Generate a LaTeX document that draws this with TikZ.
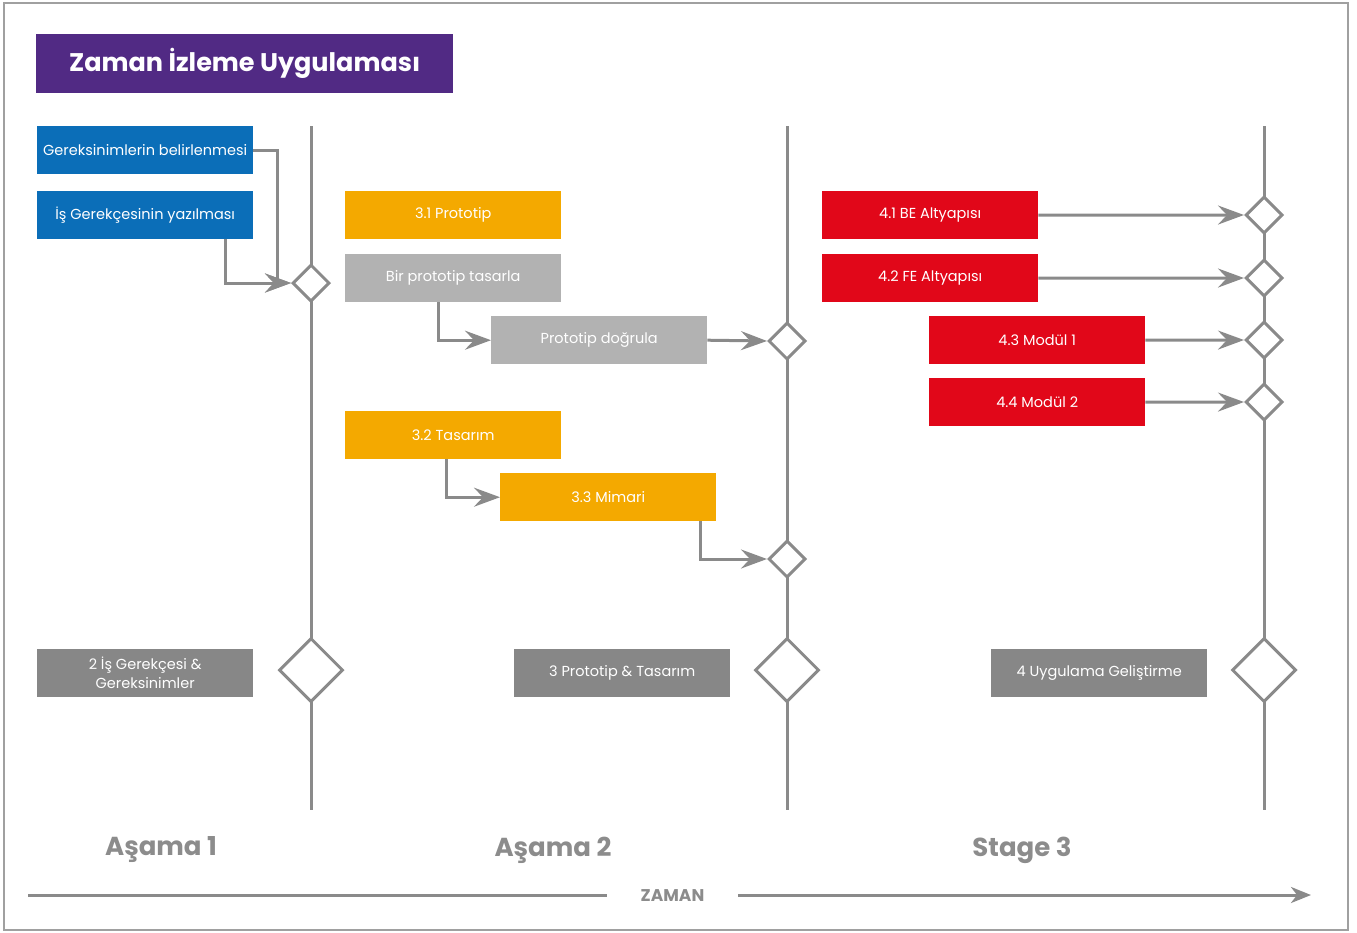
\documentclass[tikz,border=0pt]{standalone}
\usepackage{fontspec}
\setmainfont{Poppins}
\usetikzlibrary{shapes.geometric,arrows.meta}
\definecolor{titlepurple}{RGB}{81,42,132}
\definecolor{taskblue}{RGB}{11,110,184}
\definecolor{taskorange}{RGB}{244,169,0}
\definecolor{tasklight}{RGB}{178,178,178}
\definecolor{taskred}{RGB}{225,7,25}
\definecolor{sumgray}{RGB}{135,135,135}
\definecolor{linegray}{RGB}{138,138,138}
\definecolor{framegray}{RGB}{160,160,160}
\definecolor{stagegray}{RGB}{140,140,140}

\begin{document}
\begin{tikzpicture}[x=1pt,y=-1pt]
\tikzstyle{box}=[rectangle,anchor=north west,minimum width=216pt,minimum height=48pt,inner sep=0pt,text=white,font=\fontsize{14.5}{17}\selectfont]
\tikzstyle{dia}=[diamond,draw=linegray,fill=white,line width=3pt,minimum width=37pt,minimum height=37pt,inner sep=0pt]
\tikzstyle{bigdia}=[dia,minimum width=64pt,minimum height=64pt]
\tikzstyle{vline}=[draw=linegray,line width=3pt]
\tikzstyle{conn}=[draw=linegray,line width=3pt,-{Stealth[length=26pt,width=19pt,inset=9pt]}]
\tikzstyle{stage}=[text=stagegray,font=\fontsize{26}{30}\selectfont\bfseries]
\useasboundingbox (0,0) rectangle (1357,932);
\draw[framegray,line width=2.5pt] (4,3) rectangle (1348,930);
\node[box,fill=titlepurple,minimum width=417pt,minimum height=59pt,font=\fontsize{25.5}{30}\selectfont\bfseries] (title) at (36,34) {Zaman İzleme Uygulaması};
\foreach \name/\x in {1/311,2/787,3/1264}{
	\coordinate (t\name) at (\x,126);
	\coordinate (b\name) at (\x,810);
	\draw[vline] (t\name) -- (b\name);
}
\node[box,fill=taskblue] (gb) at (37,126) {Gereksinimlerin belirlenmesi};
\node[box,fill=taskblue] (ig) at (37,191) {İş Gerekçesinin yazılması};
\node[box,fill=taskorange] (pr) at (345,191) {3.1 Prototip};
\node[box,fill=tasklight] (bp) at (345,254) {Bir prototip tasarla};
\node[box,fill=tasklight] (pd) at (491,316) {Prototip doğrula};
\node[box,fill=taskorange] (ts) at (345,411) {3.2 Tasarım};
\node[box,fill=taskorange] (mi) at (500,473) {3.3 Mimari};
\foreach \name/\point/\txt in {
	r1/{822,191}/4.1 BE Altyapısı,
	r2/{822,254}/4.2 FE Altyapısı,
	r3/{929,316}/4.3 Modül 1,
	r4/{929,378}/4.4 Modül 2}
	\node[box,fill=taskred] (\name) at (\point) {\txt};
\foreach \name/\point in {
	d1/{311,283},
	d2a/{787,341},
	d2b/{787,559},
	d3a/{1264,215},
	d3b/{1264,278},
	d3c/{1264,340},
	d3d/{1264,402}}
	\node[dia] (\name) at (\point) {};
\foreach \name/\point in {
	D1/{311,670},
	D2/{787,670},
	D3/{1264,670}}
	\node[bigdia] (\name) at (\point) {};
\node[box,fill=sumgray,align=center,font=\fontsize{14.5}{19}\selectfont] (s2) at (37,649) {2 İş Gerekçesi \&\\Gereksinimler};
\node[box,fill=sumgray] (s3) at (514,649) {3 Prototip \& Tasarım};
\node[box,fill=sumgray] (s4) at (991,649) {4 Uygulama Geliştirme};
\draw[conn] (gb.east) -- ++(24,0) |- (d1.west);
\draw[conn] ([xshift=-28pt]ig.south east) |- (d1.west);
\draw[conn] ([xshift=93pt]bp.south west) |- (pd.west);
\draw[conn] (pd.east) -- (d2a.west);
\draw[conn] ([xshift=101pt]ts.south west) |- (mi.west);
\draw[conn] ([xshift=-16pt]mi.south east) |- (d2b.west);
\foreach \a/\b in {r1/d3a,r2/d3b,r3/d3c,r4/d3d}
	\draw[conn] (\a.east) -- (\b.west);
\node[stage] (st1) at (161,850) {Aşama 1};
\node[stage] (st2) at (553,850) {Aşama 2};
\node[stage] (st3) at (1022,850) {Stage 3};
\node[text=stagegray,minimum width=131pt,inner sep=0pt,font=\fontsize{17}{20}\selectfont\bfseries] (zaman) at (672.5,896) {ZAMAN};
\coordinate (zs) at (28,895);
\coordinate (ze) at (1311,895);
\draw[vline] (zs) -- (zaman.west |- zs);
\draw[vline,-{Stealth[length=20pt,width=16pt,inset=6pt]}] (zaman.east |- ze) -- (ze);
\end{tikzpicture}
\end{document}
